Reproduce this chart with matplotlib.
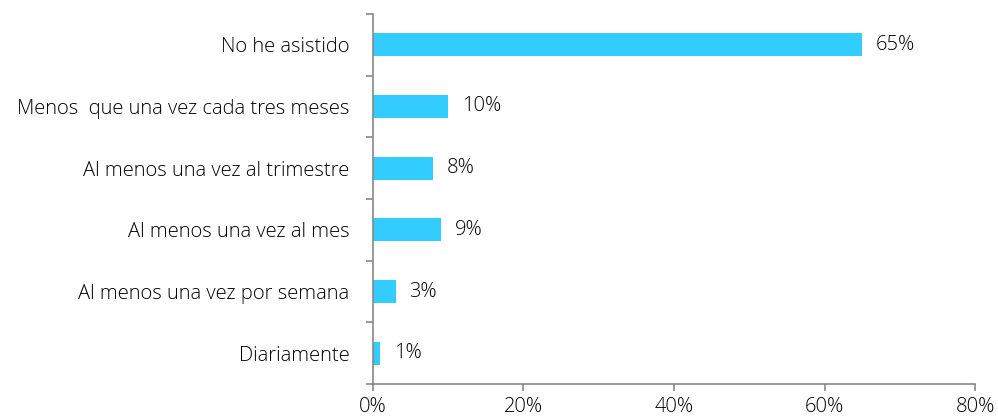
import matplotlib.pyplot as plt
import numpy as np

categorias = ["Diariamente", "Al menos una vez por semana", "Al menos una vez al mes",
              "Al menos una vez al trimestre", "Menos  que una vez cada tres meses", "No he asistido"]
porcentajes = [1, 3, 9, 8, 10, 65]
ticks_x = [0, 20, 40, 60, 80]

plt.rcParams['font.family'] = ['Open Sans', 'DejaVu Sans']
plt.rcParams['font.weight'] = 'light'
fs = 14.5
col = "#000000"

fig = plt.figure(figsize=(9.98, 4.2), dpi=100)
ax = fig.add_axes([0.3737, 0.0857, 0.6033, 0.881])

y = np.arange(len(categorias))
ax.barh(y, porcentajes, height=0.37, color="#33CCFF")
for yi, v in zip(y, porcentajes):
    ax.annotate(f"{v}%", (v, yi), xytext=(10, 0), textcoords="offset points",
                va="center", ha="left", fontsize=fs, color=col)

ax.set_xlim(0, 80)
ax.set_ylim(-0.5, len(categorias) - 0.5)
ax.set_xticks(ticks_x)
ax.set_xticklabels([f"{t}%" for t in ticks_x], fontsize=fs, color=col)
ax.set_yticks(y)
ax.set_yticklabels(categorias, fontsize=fs, color=col)
ax.tick_params(axis="y", length=0, pad=17)
ax.set_yticks(np.arange(len(categorias) + 1) - 0.5, minor=True)
ax.tick_params(axis="y", which="minor", length=5, color="#888888", width=1.2)
ax.tick_params(axis="x", length=5, color="#888888", width=1.2, pad=4)

for s in ["top", "right"]:
    ax.spines[s].set_visible(False)
for s in ["left", "bottom"]:
    ax.spines[s].set_color("#888888")
    ax.spines[s].set_linewidth(1.2)

fig.savefig("out.png", dpi=100)
